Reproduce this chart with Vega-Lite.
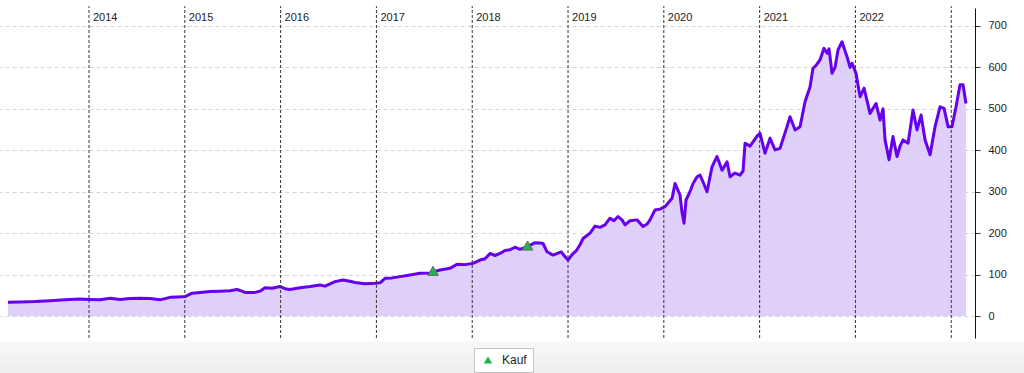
{
  "$schema": "https://vega.github.io/schema/vega-lite/v6.json",
  "width": 975,
  "height": 330,
  "autosize": {"type": "none"},
  "padding": {"top": 8, "left": 0, "right": 49, "bottom": 35},
  "background": "white",
  "view": {"stroke": null},
  "config": {"font": "Liberation Sans"},
  "datasets": {
    "price": [
      {"t": 2013.154, "v": 33}, {"t": 2013.280, "v": 34}, {"t": 2013.436, "v": 35}, {"t": 2013.593, "v": 37},
      {"t": 2013.749, "v": 39}, {"t": 2013.906, "v": 41}, {"t": 2014.0, "v": 40}, {"t": 2014.115, "v": 39},
      {"t": 2014.219, "v": 43}, {"t": 2014.324, "v": 40}, {"t": 2014.428, "v": 42}, {"t": 2014.532, "v": 43},
      {"t": 2014.637, "v": 42}, {"t": 2014.741, "v": 39}, {"t": 2014.846, "v": 45}, {"t": 2014.929, "v": 46},
      {"t": 2015.002, "v": 47}, {"t": 2015.075, "v": 55}, {"t": 2015.159, "v": 57}, {"t": 2015.263, "v": 59},
      {"t": 2015.367, "v": 60}, {"t": 2015.472, "v": 61}, {"t": 2015.545, "v": 64}, {"t": 2015.597, "v": 60},
      {"t": 2015.628, "v": 57}, {"t": 2015.733, "v": 57}, {"t": 2015.785, "v": 60}, {"t": 2015.837, "v": 68},
      {"t": 2015.910, "v": 67}, {"t": 2015.994, "v": 71}, {"t": 2016.046, "v": 66}, {"t": 2016.098, "v": 64},
      {"t": 2016.203, "v": 68}, {"t": 2016.307, "v": 71}, {"t": 2016.411, "v": 75}, {"t": 2016.463, "v": 72},
      {"t": 2016.568, "v": 83}, {"t": 2016.651, "v": 87}, {"t": 2016.724, "v": 84}, {"t": 2016.777, "v": 81},
      {"t": 2016.881, "v": 78}, {"t": 2016.985, "v": 79}, {"t": 2017.038, "v": 80}, {"t": 2017.090, "v": 91},
      {"t": 2017.163, "v": 92}, {"t": 2017.246, "v": 95}, {"t": 2017.351, "v": 99}, {"t": 2017.455, "v": 103},
      {"t": 2017.559, "v": 104}, {"t": 2017.664, "v": 111}, {"t": 2017.768, "v": 115}, {"t": 2017.841, "v": 125},
      {"t": 2017.925, "v": 124}, {"t": 2018.008, "v": 127}, {"t": 2018.081, "v": 135}, {"t": 2018.134, "v": 138},
      {"t": 2018.186, "v": 151}, {"t": 2018.238, "v": 146}, {"t": 2018.290, "v": 151}, {"t": 2018.342, "v": 158},
      {"t": 2018.395, "v": 160}, {"t": 2018.447, "v": 166}, {"t": 2018.499, "v": 161}, {"t": 2018.572, "v": 167},
      {"t": 2018.656, "v": 177}, {"t": 2018.708, "v": 176}, {"t": 2018.739, "v": 175}, {"t": 2018.781, "v": 155},
      {"t": 2018.843, "v": 147}, {"t": 2018.896, "v": 152}, {"t": 2018.927, "v": 155}, {"t": 2018.969, "v": 143},
      {"t": 2019.000, "v": 135}, {"t": 2019.042, "v": 148}, {"t": 2019.084, "v": 157}, {"t": 2019.125, "v": 172},
      {"t": 2019.157, "v": 187}, {"t": 2019.230, "v": 200}, {"t": 2019.282, "v": 217}, {"t": 2019.334, "v": 214},
      {"t": 2019.386, "v": 220}, {"t": 2019.438, "v": 236}, {"t": 2019.480, "v": 230}, {"t": 2019.522, "v": 240},
      {"t": 2019.564, "v": 232}, {"t": 2019.595, "v": 220}, {"t": 2019.647, "v": 230}, {"t": 2019.720, "v": 232},
      {"t": 2019.783, "v": 216}, {"t": 2019.825, "v": 222}, {"t": 2019.856, "v": 232}, {"t": 2019.908, "v": 256},
      {"t": 2019.960, "v": 258}, {"t": 2020.013, "v": 264}, {"t": 2020.086, "v": 284}, {"t": 2020.117, "v": 320},
      {"t": 2020.169, "v": 292}, {"t": 2020.190, "v": 250}, {"t": 2020.211, "v": 224}, {"t": 2020.232, "v": 280},
      {"t": 2020.273, "v": 300}, {"t": 2020.305, "v": 320}, {"t": 2020.347, "v": 336}, {"t": 2020.378, "v": 340},
      {"t": 2020.409, "v": 324}, {"t": 2020.451, "v": 300}, {"t": 2020.503, "v": 360}, {"t": 2020.555, "v": 385},
      {"t": 2020.608, "v": 352}, {"t": 2020.660, "v": 372}, {"t": 2020.691, "v": 336}, {"t": 2020.743, "v": 345},
      {"t": 2020.795, "v": 340}, {"t": 2020.827, "v": 350}, {"t": 2020.848, "v": 417}, {"t": 2020.900, "v": 410},
      {"t": 2020.973, "v": 434}, {"t": 2021.004, "v": 441}, {"t": 2021.056, "v": 393}, {"t": 2021.109, "v": 429},
      {"t": 2021.161, "v": 401}, {"t": 2021.213, "v": 405}, {"t": 2021.286, "v": 457}, {"t": 2021.317, "v": 481},
      {"t": 2021.370, "v": 449}, {"t": 2021.422, "v": 457}, {"t": 2021.474, "v": 517}, {"t": 2021.526, "v": 553},
      {"t": 2021.557, "v": 598}, {"t": 2021.589, "v": 605}, {"t": 2021.630, "v": 618}, {"t": 2021.672, "v": 646},
      {"t": 2021.704, "v": 634}, {"t": 2021.724, "v": 645}, {"t": 2021.756, "v": 586}, {"t": 2021.787, "v": 600},
      {"t": 2021.818, "v": 642}, {"t": 2021.860, "v": 662}, {"t": 2021.891, "v": 640}, {"t": 2021.912, "v": 626},
      {"t": 2021.944, "v": 600}, {"t": 2021.965, "v": 610}, {"t": 2022.006, "v": 586}, {"t": 2022.048, "v": 529},
      {"t": 2022.090, "v": 550}, {"t": 2022.121, "v": 520}, {"t": 2022.152, "v": 489}, {"t": 2022.215, "v": 513},
      {"t": 2022.257, "v": 473}, {"t": 2022.288, "v": 500}, {"t": 2022.309, "v": 425}, {"t": 2022.351, "v": 377},
      {"t": 2022.392, "v": 433}, {"t": 2022.434, "v": 385}, {"t": 2022.466, "v": 410}, {"t": 2022.497, "v": 425},
      {"t": 2022.549, "v": 417}, {"t": 2022.601, "v": 497}, {"t": 2022.643, "v": 449}, {"t": 2022.685, "v": 485},
      {"t": 2022.727, "v": 425}, {"t": 2022.779, "v": 389}, {"t": 2022.831, "v": 457}, {"t": 2022.883, "v": 505},
      {"t": 2022.925, "v": 501}, {"t": 2022.967, "v": 457}, {"t": 2023.008, "v": 457}, {"t": 2023.050, "v": 505},
      {"t": 2023.092, "v": 558}, {"t": 2023.123, "v": 558}, {"t": 2023.154, "v": 513}
    ],
    "years": [
      {"year": 2014}, {"year": 2015}, {"year": 2016}, {"year": 2017}, {"year": 2018},
      {"year": 2019}, {"year": 2020}, {"year": 2021}, {"year": 2022}, {"year": 2023}
    ],
    "buys": [
      {"t": 2017.591, "v": 109, "type": "Kauf"},
      {"t": 2018.578, "v": 170, "type": "Kauf"}
    ]
  },
  "layer": [
    {
      "data": {"values": [{}]},
      "mark": {"type": "rect", "clip": false, "fill": {"gradient": "linear", "x1": 0, "y1": 0, "x2": 0, "y2": 1, "stops": [{"offset": 0, "color": "#f9f9f9"}, {"offset": 1, "color": "#ededed"}]}},
      "encoding": {
        "x": {"datum": 2013.071, "type": "quantitative", "scale": {"domain": [2013.071, 2023.248], "nice": false, "zero": false}, "axis": null},
        "x2": {"datum": 2023.76},
        "y": {"datum": -60.3, "type": "quantitative", "scale": {"domain": [-53.1, 743.4], "nice": false, "zero": false},
          "axis": {"orient": "right", "values": [0, 100, 200, 300, 400, 500, 600, 700], "domain": true, "domainColor": "#111", "domainWidth": 1, "grid": true, "gridColor": "#d4d4d4", "gridDash": [4, 3], "gridWidth": 1, "ticks": true, "tickColor": "#333", "tickSize": 5, "tickOffset": 0, "labelPadding": 8, "labelFontSize": 11, "labelColor": "#222", "labelFont": "Liberation Sans", "title": null}},
        "y2": {"datum": -140}
      }
    },
    {
      "data": {"name": "price"},
      "mark": {"type": "area", "fill": "#dfd0fa", "opacity": 1},
      "encoding": {
        "x": {"field": "t", "type": "quantitative"},
        "y": {"field": "v", "type": "quantitative"},
        "y2": {"datum": 0}
      }
    },
    {
      "data": {"name": "price"},
      "mark": {"type": "line", "stroke": "#6600ee", "strokeWidth": 3, "strokeJoin": "round"},
      "encoding": {
        "x": {"field": "t", "type": "quantitative"},
        "y": {"field": "v", "type": "quantitative"}
      }
    },
    {
      "data": {"name": "years"},
      "mark": {"type": "rule", "clip": false, "stroke": "#333", "strokeWidth": 1, "strokeDash": [3, 2]},
      "encoding": {
        "x": {"field": "year", "type": "quantitative"},
        "y": {"datum": -53.1, "type": "quantitative"},
        "y2": {"datum": 748}
      }
    },
    {
      "data": {"name": "years"},
      "transform": [{"filter": "datum.year < 2023"}],
      "mark": {"type": "text", "align": "left", "baseline": "middle", "dx": 4, "dy": 10, "fontSize": 11, "color": "#222", "font": "Liberation Sans"},
      "encoding": {
        "x": {"field": "year", "type": "quantitative"},
        "y": {"datum": 743.4, "type": "quantitative"},
        "text": {"field": "year", "type": "nominal"}
      }
    },
    {
      "data": {"name": "buys"},
      "mark": {"type": "point", "shape": "triangle-up", "filled": true, "size": 110, "stroke": "#666", "strokeWidth": 1, "opacity": 1},
      "encoding": {
        "x": {"field": "t", "type": "quantitative"},
        "y": {"field": "v", "type": "quantitative"},
        "color": {"field": "type", "type": "nominal", "scale": {"domain": ["Kauf"], "range": ["#22b24c"]},
          "legend": {"orient": "none", "legendX": 474, "legendY": 340, "title": null, "symbolType": "triangle-up", "symbolSize": 70, "symbolStrokeWidth": 0, "symbolOffset": 2, "labelOffset": 8, "labelFontSize": 12, "labelColor": "#222", "labelFont": "Liberation Sans", "fillColor": "white", "strokeColor": "#c4c4c4", "padding": 6}}
      }
    }
  ]
}
